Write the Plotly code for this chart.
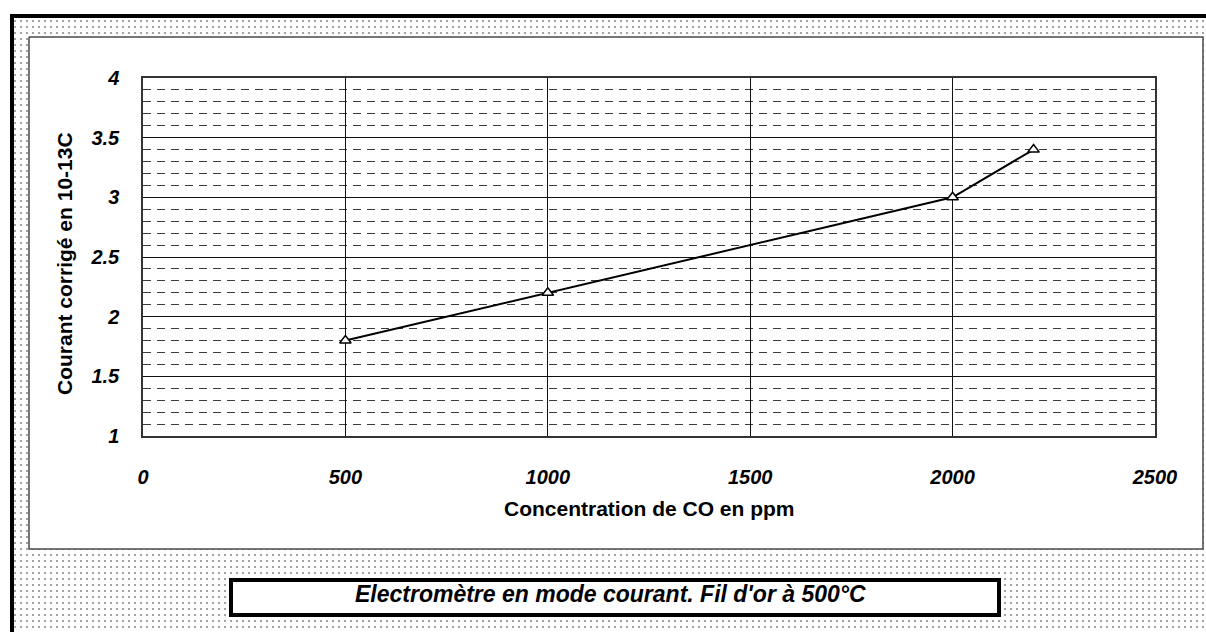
import plotly.graph_objects as go

# Measured current vs CO concentration
concentration_ppm = [500, 1000, 2000, 2200]
courant_corrige = [1.8, 2.2, 3.0, 3.4]

x_tick_values = [0, 500, 1000, 1500, 2000, 2500]
y_tick_values = [1, 1.5, 2, 2.5, 3, 3.5, 4]

x_title = "Concentration de CO en ppm"
y_title = "Courant corrigé en 10-13C"
caption = "Electromètre en mode courant. Fil d'or à 500°C"

W, H = 1206, 632
FONT = "Arial, Liberation Sans, sans-serif"

# plot-area box in page pixels
PL, PR, PT, PB = 143, 1155, 78, 436

fig = go.Figure()

# --- page decoration layer (pixel coordinates on x/y) ---
# dotted frame background
fig.add_trace(go.Scatter(
    x=[14, W, W, 14, 14], y=[18, 18, H, H, 18],
    xaxis="x", yaxis="y", mode="lines", line=dict(width=0),
    fill="toself", fillcolor="white",
    fillpattern=dict(shape=".", size=6, solidity=0.1,
                     fgcolor="#8c8c8c", bgcolor="white", fillmode="replace"),
    hoverinfo="skip", showlegend=False,
))
# white chart area
fig.add_trace(go.Scatter(
    x=[29, 1203, 1203, 29, 29], y=[37, 37, 549, 549, 37],
    xaxis="x", yaxis="y", mode="lines", line=dict(width=1.5, color="#4a4a4a"),
    fill="toself", fillcolor="white",
    hoverinfo="skip", showlegend=False,
))

# --- data ---
fig.add_trace(go.Scatter(
    x=concentration_ppm, y=courant_corrige,
    xaxis="x2", yaxis="y2", mode="lines+markers",
    line=dict(color="black", width=2),
    marker=dict(symbol="triangle-up", size=10, color="white",
                line=dict(color="black", width=1.5)),
    showlegend=False,
))

tick_font = dict(family=FONT, size=20, color="black", weight="bold", style="italic")

fig.update_layout(
    width=W, height=H,
    margin=dict(l=0, r=0, t=0, b=0, autoexpand=False),
    paper_bgcolor="white",
    plot_bgcolor="white",
    showlegend=False,
    xaxis=dict(domain=[0, 1], range=[0, W], visible=False, fixedrange=True,
               automargin=False),
    yaxis=dict(domain=[0, 1], range=[H, 0], visible=False, fixedrange=True,
               automargin=False),
    xaxis2=dict(
        domain=[PL / W, PR / W], anchor="y2", automargin=False,
        range=[0, 2500], tickvals=x_tick_values,
        showgrid=True, gridcolor="#111", gridwidth=1,
        zeroline=False, showline=True, linecolor="#333", linewidth=1.5, mirror=True,
        ticks="", ticklabelstandoff=22, tickfont=tick_font,
    ),
    yaxis2=dict(
        domain=[1 - PB / H, 1 - PT / H], anchor="x2", automargin=False,
        range=[1, 4], tickvals=y_tick_values,
        showgrid=True, gridcolor="#111", gridwidth=1,
        minor=dict(dtick=0.1, showgrid=True, gridcolor="#3a3a3a",
                   gridwidth=1, griddash="8px,6px"),
        zeroline=False, showline=True, linecolor="#333", linewidth=1.5, mirror=True,
        ticks="", ticklabelstandoff=18, tickfont=tick_font,
    ),
)

# outer black frame (top and left)
fig.add_shape(type="line", xref="x", yref="y", x0=10, x1=W, y0=16, y1=16,
              line=dict(color="black", width=4), layer="above")
fig.add_shape(type="line", xref="x", yref="y", x0=12, x1=12, y0=14, y1=H,
              line=dict(color="black", width=4), layer="above")

# caption box
fig.add_shape(type="rect", xref="x", yref="y", x0=231, x1=999, y0=580, y1=615,
              line=dict(color="black", width=4), fillcolor="white", layer="above")

title_font = dict(family=FONT, size=21, color="black", weight="bold")
fig.add_annotation(x=(PL + PR) / 2, y=508, xref="x", yref="y", text=x_title,
                   showarrow=False, font=title_font)
fig.add_annotation(x=64, y=264, xref="x", yref="y", text=y_title, textangle=-90,
                   showarrow=False, font=title_font)
fig.add_annotation(x=610, y=594, xref="x", yref="y", text=caption,
                   showarrow=False,
                   font=dict(family=FONT, size=23, color="black",
                             weight="bold", style="italic"))

fig.write_html("out.html")
